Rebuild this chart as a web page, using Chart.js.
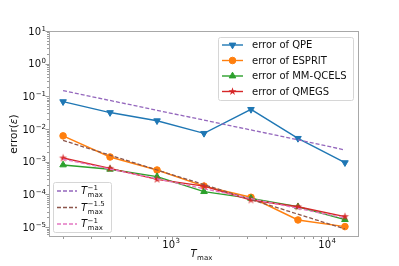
<!DOCTYPE html>
<html lang="en">
<head>
<meta charset="UTF-8" />
<title>error vs Tmax</title>
<style>
  html, body { margin: 0; padding: 0; background: #fff; }
  #wrap { width: 399px; height: 266px; }
</style>
</head>
<body>
<div id="wrap"><canvas id="myChart"></canvas></div>
<script src="https://cdn.jsdelivr.net/npm/chart.js"></script>
<script>
// data
const tmax = [200, 400, 800, 1600, 3200, 6400, 12800];
const errQPE = [0.069, 0.032, 0.018, 0.0074, 0.04, 0.0052, 0.00094];
const errESPRIT = [0.0062, 0.0014, 0.00056, 0.00018, 8.2e-5, 1.66e-5, 1.04e-5];
const errMMQCELS = [0.0008, 0.00059, 0.00035, 0.000122, 7.6e-5, 4.2e-5, 1.7e-5];
const errQMEGS = [0.0013, 0.00063, 0.00029, 0.00018, 6.8e-5, 4.2e-5, 2.1e-5];
const refInv = [0.15, 0.075, 0.0375, 0.0188, 0.0094, 0.0047, 0.0023];
const refInv15 = [0.0045, 0.00159, 0.00056, 0.0002, 7e-5, 2.5e-5, 8.8e-6];
const refInvLow = [0.0012, 0.0006, 0.0003, 0.00015, 7.5e-5, 3.75e-5, 1.9e-5];
const yTickExp = [-5, -4, -3, -2, -1, 0, 1];
const xTickExp = [3, 4];
const errLabels = ['error of QPE', 'error of ESPRIT', 'error of MM-QCELS', 'error of QMEGS'];
const refExps = ['\u22121', '\u22121.5', '\u22121'];

const FONT = '"DejaVu Sans", sans-serif';
const TXT = '#111';

// filled 5-point star like matplotlib '*'
function makeStar(color, r) {
  const c = document.createElement('canvas');
  const s = Math.ceil(r * 2) + 2;
  c.width = s; c.height = s;
  const g = c.getContext('2d');
  g.beginPath();
  for (let i = 0; i < 10; i++) {
    const rr = i % 2 === 0 ? r : r * 0.382;
    const a = -Math.PI / 2 + i * Math.PI / 5;
    g.lineTo(s / 2 + rr * Math.cos(a), s / 2 + rr * Math.sin(a));
  }
  g.closePath();
  g.fillStyle = color;
  g.fill();
  return c;
}
const star = makeStar('#d62728', 4.2);

const pts = (arr) => tmax.map((t, i) => ({ x: t, y: arr[i] }));

const errSet = (label, arr, color, style, radius, rot, order) => ({
  label, data: pts(arr), borderColor: color, backgroundColor: color,
  borderWidth: 1.4, pointStyle: style, pointRadius: radius, pointRotation: rot,
  pointBorderWidth: 1, pointHoverRadius: radius, order
});
const refSet = (arr, color, order) => ({
  data: pts(arr), borderColor: color, borderWidth: 1.3, borderDash: [4, 2],
  pointRadius: 0, order
});

const datasets = [
  errSet(errLabels[0], errQPE, '#1f77b4', 'triangle', 3.8, 180, 6),
  errSet(errLabels[1], errESPRIT, '#ff7f0e', 'circle', 3.3, 0, 5),
  errSet(errLabels[2], errMMQCELS, '#2ca02c', 'triangle', 3.8, 0, 4),
  errSet(errLabels[3], errQMEGS, '#d62728', star, 4, 0, 3),
  refSet(refInv, '#9467bd', 2),
  refSet(refInv15, '#8c564b', 1),
  refSet(refInvLow, '#e377c2', 0),
];

function pow10(ctx, exp, x, y, align) {
  ctx.font = '10px ' + FONT;
  const wb = ctx.measureText('10').width;
  ctx.font = '7px ' + FONT;
  const we = ctx.measureText(exp).width;
  const w = wb + we + 0.5;
  let x0 = align === 'right' ? x - w : x - w / 2;
  ctx.textAlign = 'left';
  ctx.textBaseline = 'alphabetic';
  ctx.font = '10px ' + FONT;
  ctx.fillText('10', x0, y);
  ctx.font = '7px ' + FONT;
  ctx.fillText(exp, x0 + wb + 0.5, y - 4.2);
}

function tSym(ctx, x, y, sup) {
  ctx.textAlign = 'left';
  ctx.textBaseline = 'alphabetic';
  ctx.font = 'italic 10px ' + FONT;
  ctx.fillText('T', x, y);
  const w = ctx.measureText('T').width;
  ctx.font = '7px ' + FONT;
  if (sup) ctx.fillText(sup, x + w + 0.5, y - 4.5);
  ctx.fillText('max', x + w + 0.5, y + 3);
}

function roundBox(ctx, x, y, w, h, r) {
  ctx.beginPath();
  ctx.moveTo(x + r, y);
  ctx.arcTo(x + w, y, x + w, y + h, r);
  ctx.arcTo(x + w, y + h, x, y + h, r);
  ctx.arcTo(x, y + h, x, y, r);
  ctx.arcTo(x, y, x + w, y, r);
  ctx.closePath();
  ctx.fillStyle = 'rgba(255,255,255,0.85)';
  ctx.fill();
  ctx.strokeStyle = '#d6d6d6';
  ctx.lineWidth = 1;
  ctx.stroke();
}

const decor = {
  id: 'decor',
  afterDraw(chart) {
    const ctx = chart.ctx;
    const a = chart.chartArea;
    const xs = chart.scales.x, ys = chart.scales.y;
    ctx.save();
    // frame
    ctx.strokeStyle = '#a8a8a8';
    ctx.lineWidth = 1;
    ctx.strokeRect(Math.round(a.left) + 0.5, Math.round(a.top) + 0.5,
      Math.round(a.right - a.left) - 1, Math.round(a.bottom - a.top) - 1);
    // x ticks
    ctx.beginPath();
    for (let e = 2; e <= 4; e++) {
      for (let m = 1; m <= 9; m++) {
        const v = m * Math.pow(10, e);
        if (v < xs.min || v > xs.max) continue;
        const px = Math.round(xs.getPixelForValue(v)) + 0.5;
        const len = m === 1 ? 3.5 : 2;
        ctx.moveTo(px, a.bottom);
        ctx.lineTo(px, a.bottom + len);
      }
    }
    // y ticks
    for (let e = -6; e <= 1; e++) {
      for (let m = 1; m <= 9; m++) {
        const v = m * Math.pow(10, e);
        if (v < ys.min || v > ys.max) continue;
        const py = Math.round(ys.getPixelForValue(v)) + 0.5;
        const len = m === 1 ? 3.5 : 2;
        ctx.moveTo(a.left, py);
        ctx.lineTo(a.left - len, py);
      }
    }
    ctx.strokeStyle = '#9a9a9a';
    ctx.stroke();
    // tick labels
    ctx.fillStyle = TXT;
    yTickExp.forEach((e) => {
      const py = ys.getPixelForValue(Math.pow(10, e));
      pow10(ctx, e < 0 ? '\u2212' + (-e) : String(e), a.left - 3, py + 3.7, 'right');
    });
    xTickExp.forEach((e) => {
      const px = xs.getPixelForValue(Math.pow(10, e));
      pow10(ctx, String(e), px - 1, a.bottom + 10.5, 'center');
    });
    // axis titles
    tSym(ctx, 190.5, 257);
    ctx.save();
    ctx.translate(17, (a.top + a.bottom) / 2);
    ctx.rotate(-Math.PI / 2);
    ctx.font = '10.5px ' + FONT;
    const w1 = ctx.measureText('error(').width;
    ctx.font = 'italic 10.5px ' + FONT;
    const w2 = ctx.measureText('\u03b5').width;
    ctx.font = '10.5px ' + FONT;
    const w3 = ctx.measureText(')').width;
    let tx = -(w1 + w2 + w3) / 2;
    ctx.textBaseline = 'alphabetic';
    ctx.textAlign = 'left';
    ctx.fillText('error(', tx, 0);
    ctx.font = 'italic 10.5px ' + FONT;
    ctx.fillText('\u03b5', tx + w1, 0);
    ctx.font = '10.5px ' + FONT;
    ctx.fillText(')', tx + w1 + w2, 0);
    ctx.restore();

    // legend for error curves
    roundBox(ctx, 218.5, 37.5, 135, 63, 2);
    const rows = [45, 60.5, 76, 91.5];
    for (let i = 0; i < 4; i++) {
      const ds = chart.data.datasets[i];
      const y = rows[i];
      ctx.beginPath();
      ctx.moveTo(222, y); ctx.lineTo(243, y);
      ctx.strokeStyle = ds.borderColor; ctx.lineWidth = 1.4;
      ctx.setLineDash([]);
      ctx.stroke();
      ctx.fillStyle = ds.borderColor;
      ctx.lineWidth = 1;
      Chart.helpers.drawPoint(ctx, {
        pointStyle: ds.pointStyle, radius: ds.pointRadius, rotation: ds.pointRotation,
        borderWidth: 1
      }, 232.5, y);
      ctx.fillStyle = TXT;
      ctx.font = '10px ' + FONT;
      ctx.textAlign = 'left';
      ctx.textBaseline = 'middle';
      ctx.fillText(ds.label, 252, y + 0.5);
    }

    // legend for reference slopes
    roundBox(ctx, 53.5, 182.5, 58, 50, 2);
    const rows2 = [191, 207.5, 224];
    for (let i = 0; i < 3; i++) {
      const ds = chart.data.datasets[4 + i];
      const y = rows2[i];
      ctx.beginPath();
      ctx.moveTo(57, y); ctx.lineTo(77, y);
      ctx.strokeStyle = ds.borderColor; ctx.lineWidth = 1.3;
      ctx.setLineDash([4, 2]);
      ctx.stroke();
      ctx.setLineDash([]);
      ctx.fillStyle = TXT;
      tSym(ctx, 81, y + 3, refExps[i]);
    }
    ctx.restore();
  }
};

new Chart(document.getElementById('myChart'), {
  type: 'line',
  data: { datasets },
  options: {
    responsive: true,
    maintainAspectRatio: false,
    animation: false,
    events: [],
    layout: { padding: { left: 49, top: 31, right: 40, bottom: 29 } },
    plugins: { legend: { display: false }, tooltip: { enabled: false } },
    scales: {
      x: { type: 'logarithmic', display: false, min: 162.5, max: 15750 },
      y: { type: 'logarithmic', display: false, min: 5e-6, max: 10 },
    },
  },
  plugins: [decor],
});
</script>
</body>
</html>
